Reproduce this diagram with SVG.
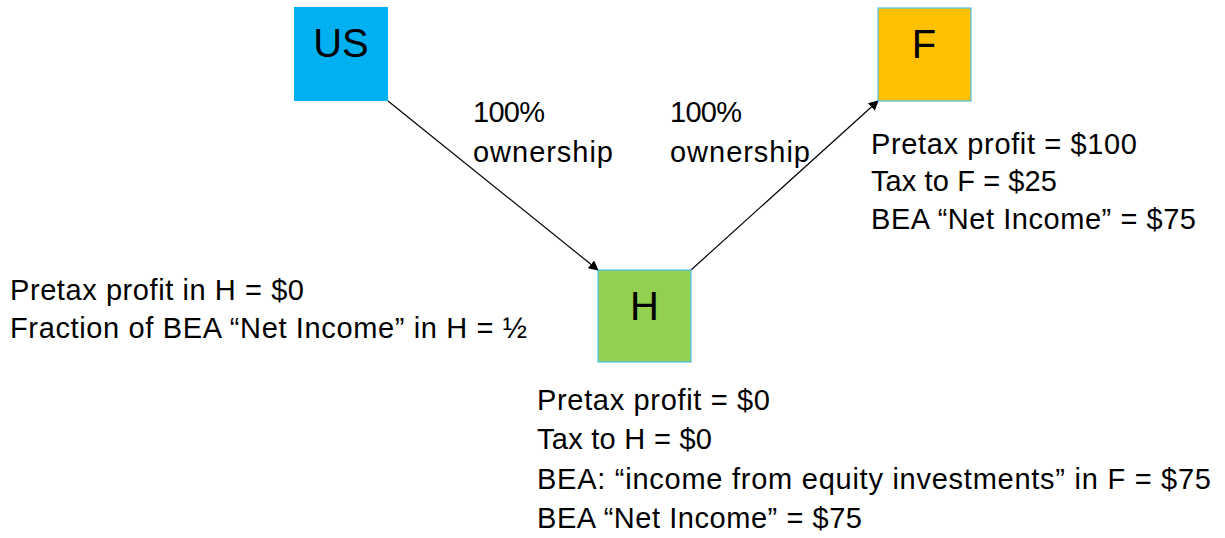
<svg xmlns="http://www.w3.org/2000/svg" width="1225" height="538" viewBox="0 0 1225 538">
<style>
text{font-family:"Liberation Sans",Arial,sans-serif;fill:#000}
.lbl{font-size:29px}
.box-t{font-size:40px;text-anchor:middle}
.box{stroke:#4BC0EE;stroke-width:1.2}
.conn{stroke:#000;stroke-width:1.2;fill:none;marker-end:url(#ah)}
</style>
<defs>
<marker id="ah" viewBox="0 0 10 10" refX="9" refY="5" markerWidth="10" markerHeight="10" markerUnits="userSpaceOnUse" orient="auto">
<path d="M0,0 L10,5 L0,10 z" fill="#000"/>
</marker>
</defs>
<rect width="1225" height="538" fill="#fff"/>
<g id="connectors">
<line class="conn" x1="388" y1="101" x2="598" y2="270"/>
<line class="conn" x1="691" y1="270" x2="878" y2="101"/>
</g>
<g id="node-US">
<rect x="294" y="7" width="94" height="94" fill="#00B0F0"/>
<text class="box-t" x="341" y="57">US</text>
</g>
<g id="node-F">
<rect class="box" x="878" y="8" width="93" height="93" fill="#FFC000"/>
<text class="box-t" x="924" y="58">F</text>
</g>
<g id="node-H">
<rect class="box" x="598" y="270" width="93" height="92" fill="#92D050"/>
<text class="box-t" x="644.5" y="320">H</text>
</g>
<g id="label-ownership-1">
<text class="lbl" x="473" y="122" textLength="72">100%</text>
<text class="lbl" x="473" y="162" textLength="140">ownership</text>
</g>
<g id="label-ownership-2">
<text class="lbl" x="670" y="122" textLength="72">100%</text>
<text class="lbl" x="670" y="162" textLength="140">ownership</text>
</g>
<g id="text-F">
<text class="lbl" x="871" y="154" textLength="266">Pretax profit = $100</text>
<text class="lbl" x="871" y="191" textLength="186">Tax to F = $25</text>
<text class="lbl" x="871" y="229" textLength="325">BEA “Net Income” = $75</text>
</g>
<g id="text-left">
<text class="lbl" x="10" y="300" textLength="294">Pretax profit in H = $0</text>
<text class="lbl" x="10" y="338" textLength="517">Fraction of BEA “Net Income” in H = ½</text>
</g>
<g id="text-H">
<text class="lbl" x="537" y="410" textLength="233">Pretax profit = $0</text>
<text class="lbl" x="537" y="449" textLength="175">Tax to H = $0</text>
<text class="lbl" x="537" y="489" textLength="674">BEA: “income from equity investments” in F = $75</text>
<text class="lbl" x="537" y="528" textLength="325">BEA “Net Income” = $75</text>
</g>
</svg>
